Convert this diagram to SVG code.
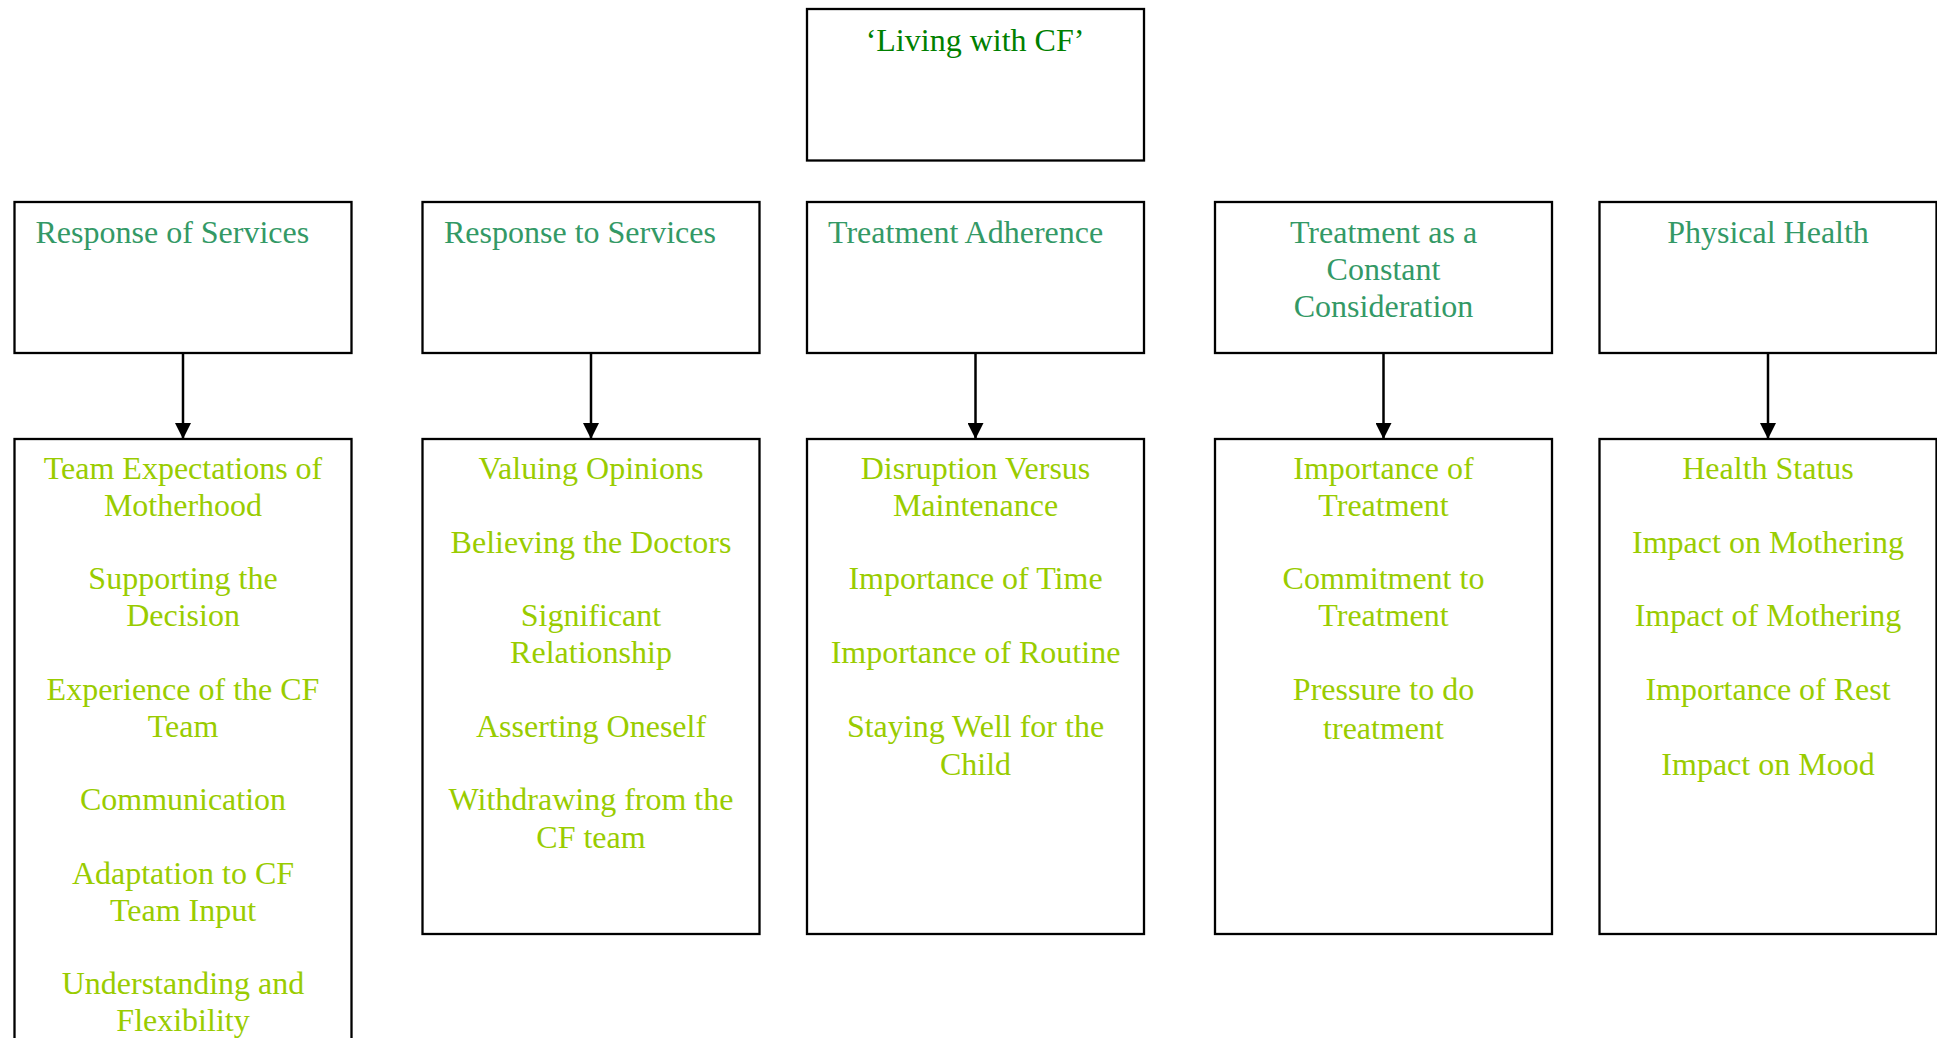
<svg xmlns="http://www.w3.org/2000/svg" width="1937" height="1038" viewBox="0 0 1937 1038">
<style>
.box{fill:#ffffff;stroke:#000000;stroke-width:2.3}
text{font-family:"Liberation Serif","Times New Roman",serif;font-size:32px}
.title{fill:#008000}
.head{fill:#339966}
.item{fill:#99cc00}
.c{text-anchor:middle}
.conn{stroke:#000000;stroke-width:2.5;fill:none}
</style>
<defs>
<marker id="arr" markerWidth="16" markerHeight="16" refX="15" refY="8" orient="auto" markerUnits="userSpaceOnUse">
<path d="M0,0 L16,8 L0,16 z" fill="#000000"/>
</marker>
</defs>
<rect width="1937" height="1038" fill="#ffffff"/>

<g id="node-living">
<rect class="box" x="807" y="9" width="337" height="151.5"/>
<text class="title c" x="975" y="51">‘Living with CF’</text>
</g>

<g id="node-response-of-services">
<rect class="box" x="14.5" y="202" width="337" height="151"/>
<text class="head" x="35.5" y="242.5">Response of Services</text>
</g>
<g id="node-response-to-services">
<rect class="box" x="422.5" y="202" width="337" height="151"/>
<text class="head" x="444" y="242.5">Response to Services</text>
</g>
<g id="node-treatment-adherence">
<rect class="box" x="807" y="202" width="337" height="151"/>
<text class="head" x="828" y="242.5">Treatment Adherence</text>
</g>
<g id="node-treatment-constant">
<rect class="box" x="1215" y="202" width="337" height="151"/>
<text class="head c" x="1383.5" y="242.5">Treatment as a</text>
<text class="head c" x="1383.5" y="279.5">Constant</text>
<text class="head c" x="1383.5" y="316.5">Consideration</text>
</g>
<g id="node-physical-health">
<rect class="box" x="1599.5" y="202" width="337" height="151"/>
<text class="head c" x="1768" y="242.5">Physical Health</text>
</g>

<g id="node-list-1">
<rect class="box" x="14.5" y="439" width="337" height="640"/>
<text class="item c" x="183" y="479">Team Expectations of</text>
<text class="item c" x="183" y="515.75">Motherhood</text>
<text class="item c" x="183" y="589.25">Supporting the</text>
<text class="item c" x="183" y="626">Decision</text>
<text class="item c" x="183" y="699.5">Experience of the CF</text>
<text class="item c" x="183" y="737">Team</text>
<text class="item c" x="183" y="810">Communication</text>
<text class="item c" x="183" y="883.5">Adaptation to CF</text>
<text class="item c" x="183" y="920.5">Team Input</text>
<text class="item c" x="183" y="994">Understanding and</text>
<text class="item c" x="183" y="1031">Flexibility</text>
</g>
<g id="node-list-2">
<rect class="box" x="422.5" y="439" width="337" height="495"/>
<text class="item c" x="591" y="479">Valuing Opinions</text>
<text class="item c" x="591" y="552.5">Believing the Doctors</text>
<text class="item c" x="591" y="626">Significant</text>
<text class="item c" x="591" y="663">Relationship</text>
<text class="item c" x="591" y="736.5">Asserting Oneself</text>
<text class="item c" x="591" y="810">Withdrawing from the</text>
<text class="item c" x="591" y="848">CF team</text>
</g>
<g id="node-list-3">
<rect class="box" x="807" y="439" width="337" height="495"/>
<text class="item c" x="975.5" y="479">Disruption Versus</text>
<text class="item c" x="975.5" y="515.75">Maintenance</text>
<text class="item c" x="975.5" y="589.25">Importance of Time</text>
<text class="item c" x="975.5" y="663">Importance of Routine</text>
<text class="item c" x="975.5" y="736.5">Staying Well for the</text>
<text class="item c" x="975.5" y="774.5">Child</text>
</g>
<g id="node-list-4">
<rect class="box" x="1215" y="439" width="337" height="495"/>
<text class="item c" x="1383.5" y="479">Importance of</text>
<text class="item c" x="1383.5" y="515.75">Treatment</text>
<text class="item c" x="1383.5" y="589.25">Commitment to</text>
<text class="item c" x="1383.5" y="626">Treatment</text>
<text class="item c" x="1383.5" y="699.5">Pressure to do</text>
<text class="item c" x="1383.5" y="738.5">treatment</text>
</g>
<g id="node-list-5">
<rect class="box" x="1599.5" y="439" width="337" height="495"/>
<text class="item c" x="1768" y="479">Health Status</text>
<text class="item c" x="1768" y="552.5">Impact on Mothering</text>
<text class="item c" x="1768" y="626">Impact of Mothering</text>
<text class="item c" x="1768" y="699.5">Importance of Rest</text>
<text class="item c" x="1768" y="775">Impact on Mood</text>
</g>

<g id="connectors">
<line class="conn" x1="183" y1="353" x2="183" y2="438" marker-end="url(#arr)"/>
<line class="conn" x1="591" y1="353" x2="591" y2="438" marker-end="url(#arr)"/>
<line class="conn" x1="975.5" y1="353" x2="975.5" y2="438" marker-end="url(#arr)"/>
<line class="conn" x1="1383.5" y1="353" x2="1383.5" y2="438" marker-end="url(#arr)"/>
<line class="conn" x1="1768" y1="353" x2="1768" y2="438" marker-end="url(#arr)"/>
</g>
</svg>
